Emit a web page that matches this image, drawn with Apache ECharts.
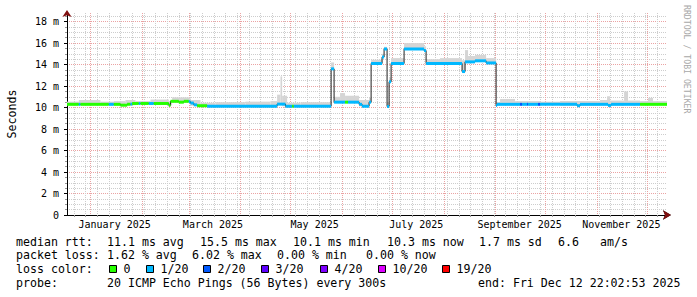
<!DOCTYPE html>
<html><head><meta charset="utf-8">
<script src="https://cdn.jsdelivr.net/npm/echarts@6/dist/echarts.min.js"></script>
<style>html,body{margin:0;padding:0;background:#fff}#c{width:697px;height:297px}</style>
</head><body><div id="c"></div>
<script>
// ---------- data ----------
const rangeStart = '2024-12-17 22:02:53';
const rangeEnd = '2025-12-12 22:02:53';

// median rtt (ms): step segments starting at these times
const medianStart = ['2024-12-17 22:02:53','2024-12-25','2024-12-26','2025-01-12','2025-01-15','2025-01-19','2025-01-23','2025-01-25','2025-01-26','2025-01-30','2025-01-31','2025-02-05','2025-02-08','2025-02-17','2025-02-18','2025-02-23','2025-02-26','2025-03-01','2025-03-02','2025-03-04','2025-03-06','2025-03-12','2025-04-23','2025-04-28','2025-05-02','2025-05-03','2025-05-25 09:00','2025-05-27 04:00','2025-06-02 18:00','2025-06-04 13:00','2025-06-11 04:00','2025-06-12 23:00','2025-06-17 04:00','2025-06-18 09:00','2025-06-24 23:00','2025-06-26 04:00','2025-06-27 23:00','2025-06-29 04:00','2025-06-30 09:00','2025-07-08 04:00','2025-07-20 04:00','2025-07-21 09:00','2025-08-11 23:00','2025-08-13 18:00','2025-08-19 18:00','2025-08-26 09:00','2025-09-01 09:00','2025-09-01 23:00','2025-09-15 18:00','2025-09-16 23:00','2025-09-19 23:00','2025-09-20 13:00','2025-09-26 13:00','2025-09-27 18:00','2025-10-19 23:00','2025-10-21 18:00','2025-11-07 13:00','2025-11-09 09:00','2025-11-26 18:00'];
const medianMs = [10.3,10.3,10.3,10.3,10.3,10.22,10.3,10.32,10.38,10.38,10.38,10.38,10.38,10.2,10.58,10.5,10.58,10.55,10.42,10.25,10.17,10.12,10.32,10.12,10.12,10.12,13.6,10.5,10.5,10.5,10.3,10.12,10.5,14.1,14.7,15.45,10.1,12.4,14.1,15.45,15.3,14.1,13.35,14.25,14.35,14.15,10.2,10.3,10.3,10.3,10.3,10.3,10.3,10.3,10.17,10.3,10.2,10.3,10.3];
// index into lossLabels / lossColors
const medianLoss = [0,1,0,1,0,0,0,1,0,1,0,1,0, 0,0,0,0, 1,1,1, 0, 1,1,1, 0, 1,1,1, 0, 1, 1,1,1,1,1,1,1,1,1,1,1,1,1,1,1,1,1,1, 2,1,2,1,2,1,1,1,1,1,0];

// smoke (ping spread) upper bound (ms)
const smokeStart = ['2024-12-17 22:02:53','2024-12-25','2025-01-07','2025-01-15','2025-01-22','2025-01-28','2025-02-06','2025-02-17','2025-02-19','2025-03-02','2025-03-08','2025-03-17','2025-04-04','2025-04-19','2025-04-23','2025-04-25','2025-04-26','2025-04-29','2025-05-07','2025-05-25 09:00','2025-05-27 04:00','2025-05-30 18:00','2025-06-02 18:00','2025-06-11 04:00','2025-06-17 04:00','2025-06-18 09:00','2025-06-24 23:00','2025-06-26 04:00','2025-06-27 23:00','2025-06-29 04:00','2025-06-30 09:00','2025-07-08 04:00','2025-07-20 04:00','2025-07-21 09:00','2025-07-29 18:00','2025-08-11 23:00','2025-08-13 18:00','2025-08-15 13:00','2025-08-19 18:00','2025-08-26 09:00','2025-09-01 09:00','2025-09-03 18:00','2025-09-12 18:00','2025-09-27 18:00','2025-10-09 18:00','2025-11-02 18:00','2025-11-06 23:00','2025-11-08 18:00','2025-11-17 04:00','2025-11-19 13:00','2025-11-26 18:00','2025-12-01 13:00','2025-12-04 13:00'];
const smokeHighMs = [10.55,10.7,10.55,10.6,10.7,10.6,10.75,10.6,10.95,10.7,10.45,10.5,10.55,10.6,11.2,12.9,11.1,10.45,10.5,14.2,11.0,11.35,11.1,10.7,10.9,14.45,15.0,15.65,10.5,12.8,14.6,16.0,15.7,14.5,14.6,14.4,15.35,14.8,14.9,14.6,10.5,10.8,10.6,10.55,10.6,10.7,11.05,10.65,11.5,10.65,10.6,10.9,10.6];

const monthStarts = ['2025-01-01','2025-02-01','2025-03-01','2025-04-01','2025-05-01','2025-06-01','2025-07-01','2025-08-01','2025-09-01','2025-10-01','2025-11-01','2025-12-01'];
const monthLabelDates = ['2025-01-15 12:00','2025-03-15 12:00','2025-05-15 12:00','2025-07-15 12:00','2025-09-15 12:00','2025-11-15 12:00'];
const monthLabels = ['January 2025','March 2025','May 2025','July 2025','September 2025','November 2025'];

const yMin = 0, yMax = 18.8, yMajor = 2, yMinor = 0.5;
const yUnit = ' m';
const yName = 'Seconds';

const lossLabels = ['0','1/20','2/20','3/20','4/20','10/20','19/20'];
const lossColors = ['#26ff00','#00b8ff','#0059ff','#5e00ff','#7e00ff','#dd00ff','#ff0000'];

const statRows = [
  [['median rtt:',16],['11.1 ms avg',107],['15.5 ms max',200],['10.1 ms min',293],['10.3 ms now',387],['1.7 ms sd',479],['6.6',558],['am/s',600]],
  [['packet loss:',16],['1.62 % avg',107],['6.02 % max',192],['0.00 % min',277],['0.00 % now',366]],
  [['loss color:',16]],
  [['probe:',16],['20 ICMP Echo Pings (56 Bytes) every 300s',107],['end: Fri Dec 12 22:02:53 2025',478]]
];
const lossLegendX = [109,146,203,261,320,378,442];
const watermark = 'RRDTOOL / TOBI OETIKER';

// ---------- build ----------
const parse = s => (echarts.time && echarts.time.parse) ? +echarts.time.parse(s) : +new Date(s.replace(' ', 'T'));
const tStart = parse(rangeStart), tEnd = parse(rangeEnd);

const medSegs = medianStart.map((s, i) => [parse(s), i + 1 < medianStart.length ? parse(medianStart[i + 1]) : tEnd, medianMs[i], medianLoss[i]]);
const lineData = medSegs.map(d => [d[0], d[2]]).concat([[tEnd, medianMs[medianMs.length - 1]]]);
const smokeData = smokeStart.map((s, i) => {
  const a = parse(s), b = i + 1 < smokeStart.length ? parse(smokeStart[i + 1]) : tEnd;
  let low = Infinity;
  medSegs.forEach(m => { if (m[0] < b && m[1] > a) low = Math.min(low, m[2]); });
  return [a, b, low, smokeHighMs[i]];
});

// weekly (Sunday) minor grid
const weekTicks = [];
{
  const d = new Date(2024, 11, 22);
  while (+d <= tEnd) { weekTicks.push(+d); d.setDate(d.getDate() + 7); }
}
const monthTicks = monthStarts.map(parse);
const labelTicks = monthLabelDates.map(parse);

const MONO = '"DejaVu Sans Mono", monospace';
const gridGray = '#cdcdcd', gridRed = '#eba3a3';

const chart = echarts.init(document.getElementById('c'), null, {renderer: 'svg', width: 697, height: 297});

const graphic = [];
const rowY = [241.5, 255, 269, 283];
statRows.forEach((row, r) => row.forEach(([t, x]) => graphic.push({
  type: 'text', x: x, y: rowY[r], silent: true,
  style: {text: t, fontFamily: MONO, fontSize: 11.6, fill: '#000', align: 'left', verticalAlign: 'middle'}
})));
lossLabels.forEach((lab, i) => {
  graphic.push({type: 'rect', silent: true, shape: {x: lossLegendX[i] + 0.5, y: 265.5, width: 7, height: 7},
    style: {fill: lossColors[i], stroke: '#000', lineWidth: 1}});
  graphic.push({type: 'text', x: lossLegendX[i] + 14.5, y: 269, silent: true,
    style: {text: lab, fontFamily: MONO, fontSize: 11.6, fill: '#000', align: 'left', verticalAlign: 'middle'}});
});
graphic.push({type: 'text', x: 687, y: 5, rotation: -Math.PI / 2, silent: true,
  style: {text: watermark, fontFamily: MONO, fontSize: 8.2, fill: '#a8a8a8', align: 'left', verticalAlign: 'middle'}});

const option = {
  animation: false,
  backgroundColor: '#fff',
  grid: {left: 67, right: 30, top: 13, bottom: 82, containLabel: false, outerBoundsMode: 'none'},
  xAxis: [
    {
      type: 'value', min: tStart, max: tEnd, scale: true, position: 'bottom', offset: 0,
      axisLine: {show: true, onZero: false, symbol: ['none', 'arrow'], symbolSize: [7, 8], symbolOffset: [0, 4],
        lineStyle: {color: '#000', width: 1}},
      axisTick: {show: true, customValues: weekTicks, length: 2, lineStyle: {color: '#999'}},
      axisLabel: {show: true, customValues: labelTicks, margin: 4, hideOverlap: false,
        formatter: v => { const i = labelTicks.indexOf(+v); return i >= 0 ? monthLabels[i] : ''; },
        fontFamily: MONO, fontSize: 10, color: '#000'},
      splitLine: {show: true, lineStyle: {color: gridGray, type: [1, 1], width: 1}}
    },
    {
      type: 'value', min: tStart, max: tEnd, scale: true, position: 'bottom', offset: 0,
      axisLine: {show: true, onZero: false, symbol: ['none', 'arrow'], symbolSize: [7, 8], symbolOffset: [0, 4],
        lineStyle: {color: '#801010', opacity: 0}},
      axisTick: {show: false, customValues: monthTicks},
      axisLabel: {show: false},
      splitLine: {show: true, lineStyle: {color: gridRed, type: [1, 1], width: 1}}
    }
  ],
  yAxis: [
    {
      type: 'value', min: yMin, max: yMax, interval: yMinor, position: 'left',
      axisLine: {show: false}, axisTick: {show: true, length: 2, lineStyle: {color: '#999'}},
      axisLabel: {show: false},
      splitLine: {show: true, showMinLine: false, showMaxLine: false, lineStyle: {color: gridGray, type: [1, 1], width: 1}}
    },
    {
      type: 'value', min: yMin, max: yMax, interval: yMajor, position: 'left',
      name: yName, nameLocation: 'middle', nameGap: 49,
      nameTextStyle: {fontFamily: MONO, fontSize: 11.6, color: '#000'},
      axisLine: {show: true, onZero: false, lineStyle: {color: '#000', width: 1}},
      axisTick: {show: true, length: 3, lineStyle: {color: '#000'}},
      axisLabel: {margin: 8, showMaxLabel: false, fontFamily: MONO, fontSize: 10, color: '#000',
        formatter: v => v === 0 ? '0' : v + yUnit},
      splitLine: {show: true, showMinLine: false, showMaxLine: false, lineStyle: {color: gridRed, type: [1, 1], width: 1}}
    },
    {
      type: 'value', min: yMin, max: yMax, position: 'left',
      axisLine: {show: true, onZero: false, symbol: ['none', 'arrow'], symbolSize: [7, 7], symbolOffset: [0, 3],
        lineStyle: {color: '#801010', opacity: 0}},
      axisTick: {show: false}, axisLabel: {show: false}, splitLine: {show: false}
    }
  ],
  series: [
    {
      type: 'custom', name: 'smoke', xAxisIndex: 0, yAxisIndex: 1, clip: true, silent: true, z: 2,
      encode: {x: [0, 1], y: [2, 3]},
      data: smokeData,
      renderItem: (params, api) => {
        const a = api.coord([api.value(0), api.value(3)]);
        const b = api.coord([api.value(1), api.value(2)]);
        return {type: 'rect', shape: {x: a[0], y: a[1], width: b[0] - a[0], height: b[1] - a[1]},
          style: {fill: '#d5d5d5'}};
      }
    },
    {
      type: 'line', name: 'median', xAxisIndex: 0, yAxisIndex: 1, step: 'end', silent: true, z: 3,
      showSymbol: false, symbol: 'none', data: lineData,
      lineStyle: {color: '#202020', width: 1}
    },
    {
      type: 'custom', name: 'loss', xAxisIndex: 0, yAxisIndex: 1, clip: true, silent: true, z: 4,
      encode: {x: [0, 1], y: [2]},
      data: medSegs,
      renderItem: (params, api) => {
        const a = api.coord([api.value(0), api.value(2)]);
        const b = api.coord([api.value(1), api.value(2)]);
        return {type: 'rect', shape: {x: a[0], y: a[1] - 1.5, width: b[0] - a[0], height: 3},
          style: {fill: lossColors[api.value(3)]}};
      }
    }
  ],
  graphic: graphic
};
chart.setOption(option);
</script>
</body></html>
